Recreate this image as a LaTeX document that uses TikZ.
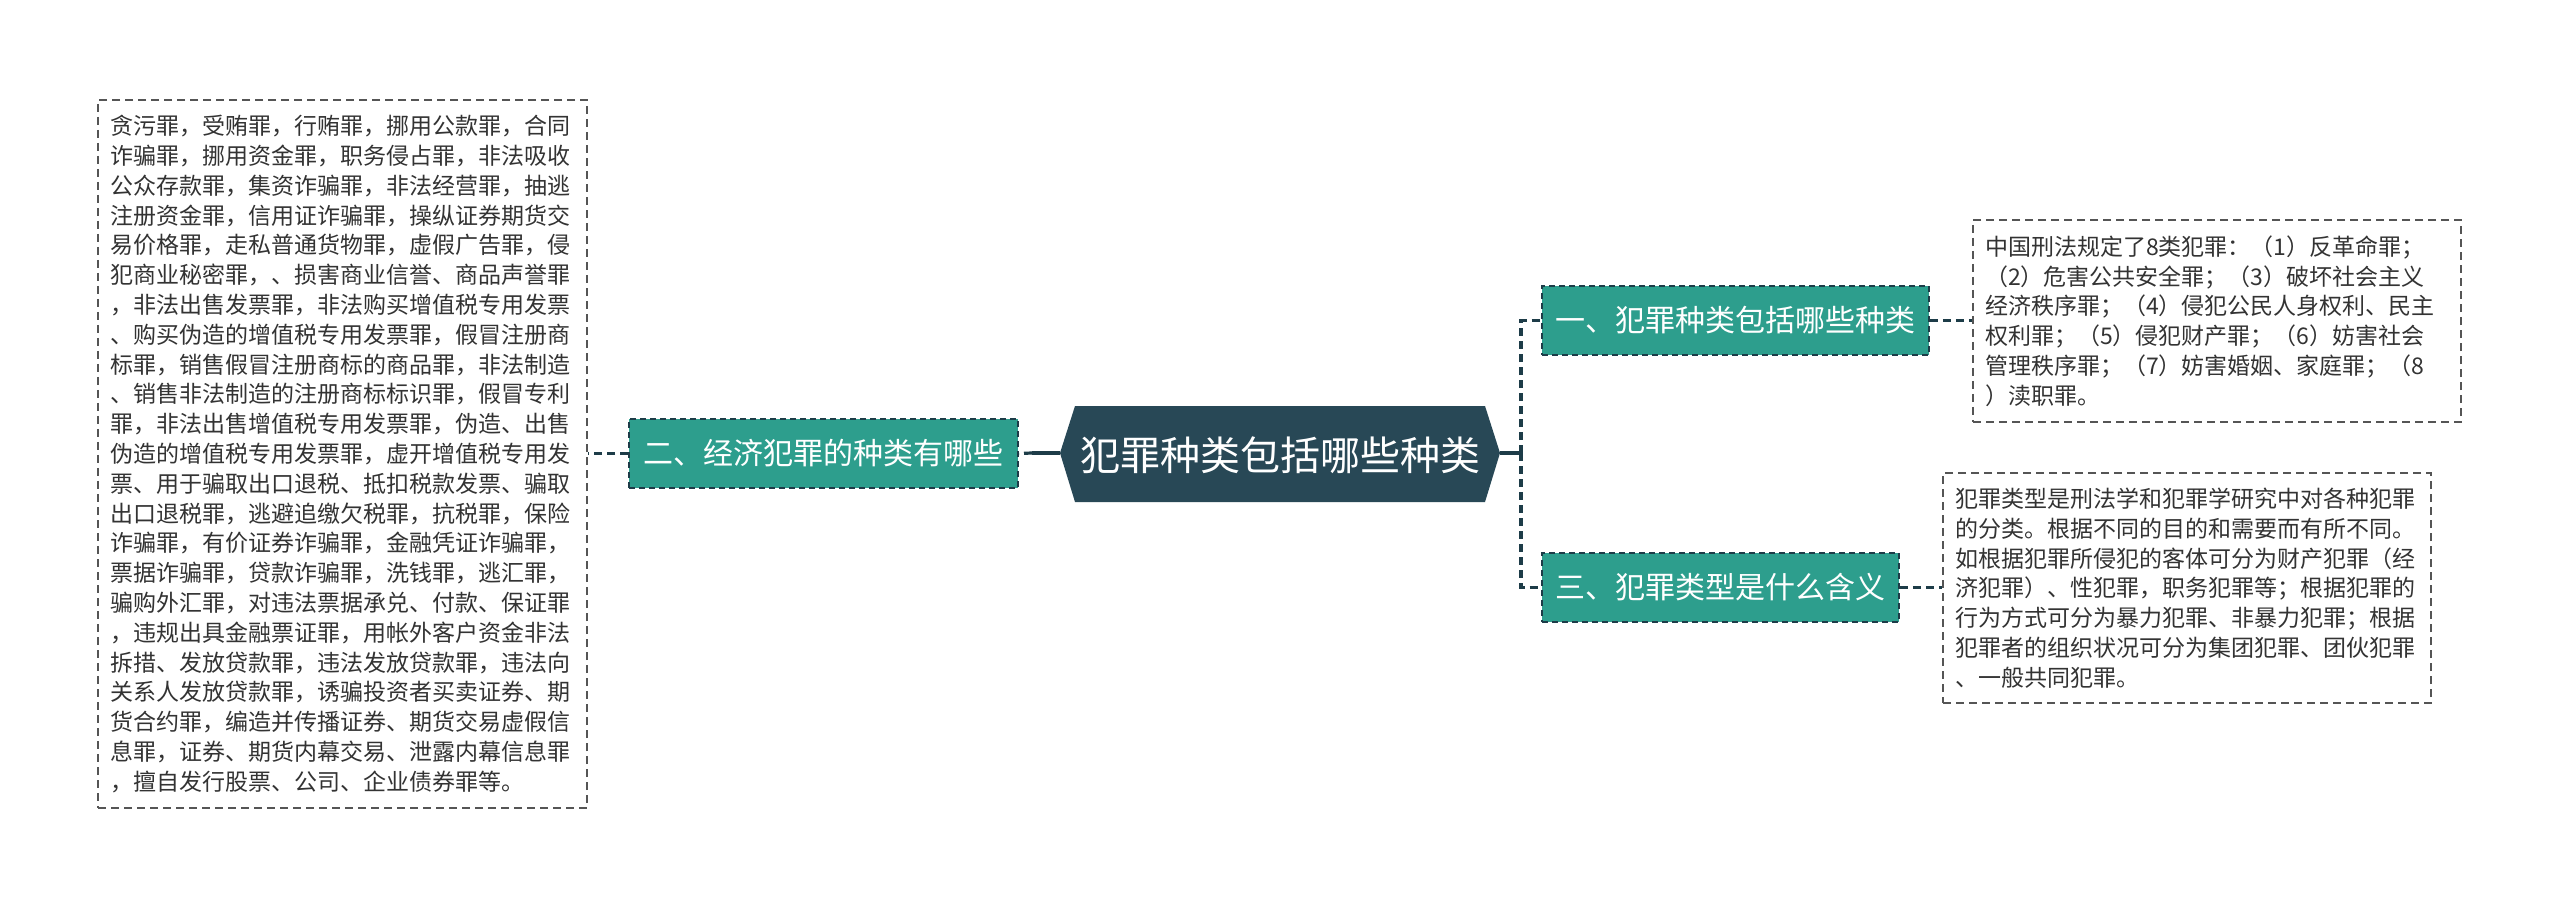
\documentclass[tikz,border=0pt]{standalone}
\usepackage{fontspec}
\newfontfamily\cjk{Noto Sans CJK SC}
\definecolor{teal1}{HTML}{2D9E8D}
\definecolor{darkc}{HTML}{284856}
\definecolor{edgec}{HTML}{1D3C48}
\definecolor{txtc}{HTML}{333333}
\definecolor{boxc}{HTML}{555555}
\tikzset{
  topicbox/.style={draw=edgec, line width=1.8pt, dash pattern=on 6pt off 4pt, fill=teal1,
    text=white, font=\cjk\fontsize{30}{36}\selectfont, minimum height=69pt, inner sep=0pt},
  notebox/.style={draw=boxc, line width=1.8pt, dash pattern=on 8pt off 5pt, fill=white,
    text=txtc, font=\cjk\fontsize{23}{29.8}\selectfont, align=left, inner xsep=12pt, inner ysep=0pt},
  conn/.style={draw=edgec, line width=3.2pt},
  dconn/.style={draw=edgec, line width=3.2pt, dash pattern=on 8pt off 5pt},
}
\begin{document}
\begin{tikzpicture}[x=1pt,y=-1pt]
\useasboundingbox[fill=white] (0,0) rectangle (2560,909);
% central node
\fill[darkc] (1060,453) -- (1075,406) -- (1485,406) -- (1500,453) -- (1485,502) -- (1075,502) -- cycle;
\node[text=white, font=\cjk\fontsize{40}{46}\selectfont, inner sep=0pt] (c) at (1280,455) {犯罪种类包括哪些种类};
\coordinate (cL) at (1060,453);
\coordinate (cR) at (1500,453);
% topics
\node[topicbox, minimum width=389pt] (b2) at (823.5,453.5) {二、经济犯罪的种类有哪些};
\node[topicbox, minimum width=387pt] (b1) at (1735.5,320.5) {一、犯罪种类包括哪些种类};
\node[topicbox, minimum width=357pt] (b3) at (1720.5,587.5) {三、犯罪类型是什么含义};
% notes
\node[notebox, text width=465pt, minimum height=708pt] (t2) at (342.5,454) {贪污罪，受贿罪，行贿罪，挪用公款罪，合同\\
诈骗罪，挪用资金罪，职务侵占罪，非法吸收\\
公众存款罪，集资诈骗罪，非法经营罪，抽逃\\
注册资金罪，信用证诈骗罪，操纵证券期货交\\
易价格罪，走私普通货物罪，虚假广告罪，侵\\
犯商业秘密罪，、损害商业信誉、商品声誉罪\\
，非法出售发票罪，非法购买增值税专用发票\\
、购买伪造的增值税专用发票罪，假冒注册商\\
标罪，销售假冒注册商标的商品罪，非法制造\\
、销售非法制造的注册商标标识罪，假冒专利\\
罪，非法出售增值税专用发票罪，伪造、出售\\
伪造的增值税专用发票罪，虚开增值税专用发\\
票、用于骗取出口退税、抵扣税款发票、骗取\\
出口退税罪，逃避追缴欠税罪，抗税罪，保险\\
诈骗罪，有价证券诈骗罪，金融凭证诈骗罪，\\
票据诈骗罪，贷款诈骗罪，洗钱罪，逃汇罪，\\
骗购外汇罪，对违法票据承兑、付款、保证罪\\
，违规出具金融票证罪，用帐外客户资金非法\\
拆措、发放贷款罪，违法发放贷款罪，违法向\\
关系人发放贷款罪，诱骗投资者买卖证券、期\\
货合约罪，编造并传播证券、期货交易虚假信\\
息罪，证券、期货内幕交易、泄露内幕信息罪\\
，擅自发行股票、公司、企业债券罪等。};
\node[notebox, text width=464pt, minimum height=202pt] (r1) at (2217,321) {中国刑法规定了8类犯罪：（1）反革命罪；\\
（2）危害公共安全罪；（3）破坏社会主义\\
经济秩序罪；（4）侵犯公民人身权利、民主\\
权利罪；（5）侵犯财产罪；（6）妨害社会\\
管理秩序罪；（7）妨害婚姻、家庭罪；（8\\
）渎职罪。};
\node[notebox, text width=464pt, minimum height=230pt] (r3) at (2187,588) {犯罪类型是刑法学和犯罪学研究中对各种犯罪\\
的分类。根据不同的目的和需要而有所不同。\\
如根据犯罪所侵犯的客体可分为财产犯罪（经\\
济犯罪）、性犯罪，职务犯罪等；根据犯罪的\\
行为方式可分为暴力犯罪、非暴力犯罪；根据\\
犯罪者的组织状况可分为集团犯罪、团伙犯罪\\
、一般共同犯罪。};
% connectors
\coordinate (jL) at (1032,453);
\coordinate (jR) at (1521,453);
\draw[conn] (cL) -- (jL);
\draw[dconn] (jL) -- (b2.east);
\draw[dconn] (b2.west) -- (t2.east |- b2.west);
\draw[conn] (cR) -- (jR);
\draw[conn] (1521,446) -- (1521,461);
\draw[dconn] (jR) |- (b1.west);
\draw[dconn] (jR) |- (b3.west);
\draw[dconn] (b1.east) -- (r1.west |- b1.east);
\draw[dconn] (b3.east) -- (r3.west |- b3.east);
\end{tikzpicture}
\end{document}
